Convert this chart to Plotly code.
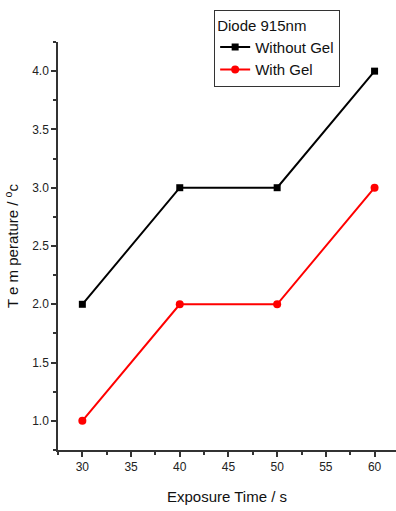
import plotly.graph_objects as go

time_s = [30, 40, 50, 60]
without_gel = [2.0, 3.0, 3.0, 4.0]
with_gel = [1.0, 2.0, 2.0, 3.0]

FONT = "Liberation Sans Narrow, Liberation Sans, Arial"

fig = go.Figure()
fig.add_trace(go.Scatter(x=time_s, y=without_gel, mode="lines+markers", name="Without Gel",
                         line=dict(color="black", width=2),
                         marker=dict(symbol="square", size=7, color="black")))
fig.add_trace(go.Scatter(x=time_s, y=with_gel, mode="lines+markers", name="With Gel",
                         line=dict(color="red", width=2),
                         marker=dict(symbol="circle", size=8, color="red")))

fig.update_layout(
    width=396, height=511,
    margin=dict(l=58, r=0, t=42, b=61),
    plot_bgcolor="white", paper_bgcolor="white",
    font=dict(family=FONT, size=12, color="#222"),
    showlegend=True,
    legend=dict(title=dict(text="Diode 915nm", font=dict(size=15, family=FONT, color="#111")),
                x=0.462, y=1.078, xanchor="left", yanchor="top",
                bordercolor="#333", borderwidth=1, bgcolor="white",
                font=dict(size=15, family=FONT, color="#111"),
                tracegroupgap=0, itemwidth=30),
    xaxis=dict(range=[27.5, 62.2], tickvals=[30, 35, 40, 45, 50, 55, 60],
               showline=True, linecolor="#333", linewidth=1.5, mirror=False,
               ticks="outside", ticklen=5, tickcolor="#333", tickwidth=1.5,
               showgrid=False, zeroline=False,
               minor=dict(ticks="outside", ticklen=3, dtick=2.5, tick0=27.5, tickcolor="#333", tickwidth=1.5),
               title=dict(text="Exposure Time / s", font=dict(size=15, family=FONT, color="#111"), standoff=18),
               tickfont=dict(size=12)),
    yaxis=dict(range=[0.75, 4.25], tickvals=[1.0, 1.5, 2.0, 2.5, 3.0, 3.5, 4.0],
               ticktext=["1.0", "1.5", "2.0", "2.5", "3.0", "3.5", "4.0"],
               showline=True, linecolor="#333", linewidth=1.5,
               ticks="outside", ticklen=5, tickcolor="#333", tickwidth=1.5,
               showgrid=False, zeroline=False,
               minor=dict(ticks="outside", ticklen=3, dtick=0.25, tick0=0.75, tickcolor="#333", tickwidth=1.5),
               title=dict(text="T e m perature / <sup>o</sup>c", font=dict(size=15, family=FONT, color="#111"), standoff=10),
               tickfont=dict(size=12)),
)

fig.write_html("out.html")
